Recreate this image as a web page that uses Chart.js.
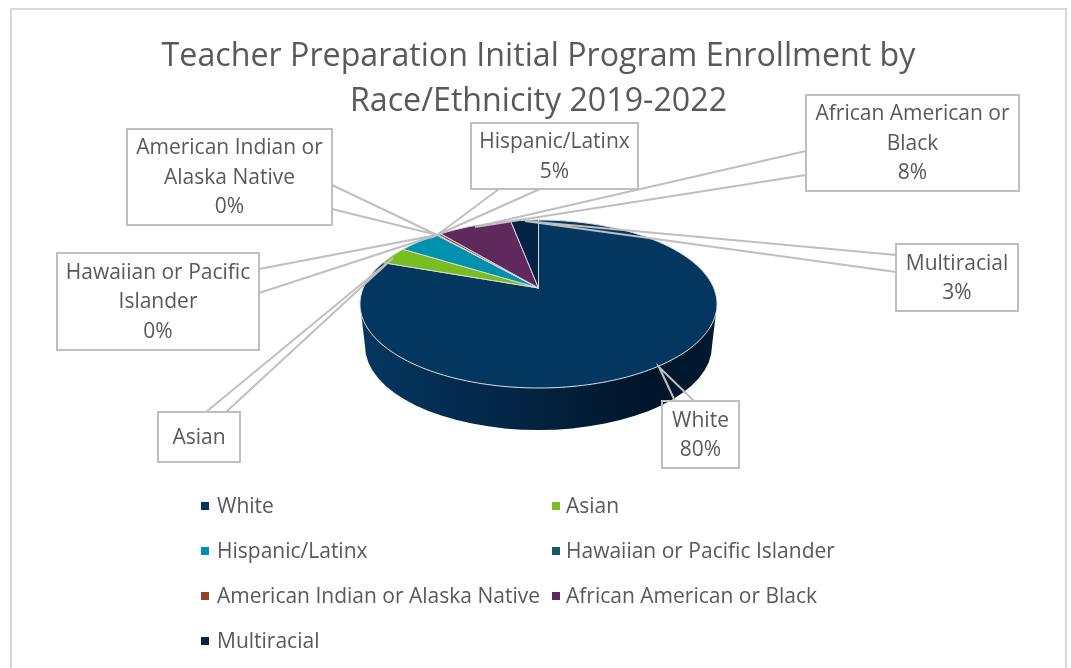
<!DOCTYPE html>
<html>

<head>
  <meta charset="utf-8" />
  <title>Teacher Preparation Initial Program Enrollment</title>
  <script src="https://cdn.jsdelivr.net/npm/chart.js"></script>
  <style>
    html, body { margin: 0; padding: 0; background: #fff; overflow: hidden; }
    canvas { display: block; }
  </style>
</head>

<body>
  <canvas id="pieChart" width="1071" height="668"></canvas>

  <script>
    const titleLines = ['Teacher Preparation Initial Program Enrollment by', 'Race/Ethnicity 2019-2022'];
    const categories = ['White', 'Asian', 'Hispanic/Latinx', 'Hawaiian or Pacific Islander', 'American Indian or Alaska Native', 'African American or Black', 'Multiracial'];
    const enrollment = [80, 3.4, 4.6, 0.1, 0.4, 8, 3];
    const sliceColors = ['#03375f', '#78be20', '#0091ae', '#0f5b60', '#9a3f2a', '#5f295e', '#022343'];

    // label text of the callouts, broken the way the boxes break it
    const calloutText = [
      ['White'],
      ['Asian'],
      ['Hispanic/Latinx'],
      ['Hawaiian or Pacific', 'Islander'],
      ['American Indian or', 'Alaska Native'],
      ['African American or', 'Black'],
      ['Multiracial']
    ];
    const calloutShowsPercent = [true, false, true, true, true, true, true];

    // box: x1, y1, x2, y2 / leader: two feet on the box and the tip
    const calloutBoxes = [
      [662, 401, 739, 468],
      [158, 412, 240, 462],
      [471, 123, 638, 189],
      [57, 253, 259, 350],
      [127, 129, 332, 225],
      [806, 95, 1019, 191],
      [896, 244, 1018, 311]
    ];
    const calloutLeaders = [
      [[694, 401], [659, 367], [675, 401]],
      [[206, 412], [393, 258], [226, 412]],
      [[499, 189], [437, 235], [540, 189]],
      [[259, 269], [437, 235], [259, 293]],
      [[332, 185], [437, 235], [332, 209]],
      [[806, 151], [475, 227], [806, 175]],
      [[896, 255], [525, 221], [896, 272]]
    ];

    const textColor = '#595959';
    const lineColor = '#bfbfbf';
    const fontName = '"Open Sans", sans-serif';

    // the disc as seen in perspective
    const pie = { cx: 538.5, cy: 304, rx: 178.5, ry: 84, apex: 16 / 84 };
    const base = { cx: 538.5, cy: 346, rx: 173.5, ry: 84 };

    // Chart.js angle -> point on the rim, the centre of the disc lands above the middle of the ellipse
    function rimPoint(angle) {
      const t = pie.apex;
      const u = Math.cos(angle);
      const v = -Math.sin(angle);
      const d = 1 + t * v;
      return [pie.cx + pie.rx * u * Math.sqrt(1 - t * t) / d, pie.cy - pie.ry * (v + t) / d];
    }

    const pie3d = {
      id: 'pie3d',
      beforeDatasetsDraw(chart) {
        const ctx = chart.ctx;
        ctx.save();

        // side wall
        const wall = ctx.createLinearGradient(pie.cx - pie.rx, 0, pie.cx + pie.rx, 0);
        wall.addColorStop(0, '#063660');
        wall.addColorStop(0.3, '#032a4e');
        wall.addColorStop(0.55, '#02203b');
        wall.addColorStop(0.82, '#00152a');
        wall.addColorStop(1, '#021a30');
        ctx.beginPath();
        ctx.ellipse(pie.cx, pie.cy, pie.rx, pie.ry, 0, Math.PI, 0, true);
        ctx.ellipse(base.cx, base.cy, base.rx, base.ry, 0, 0, Math.PI, false);
        ctx.closePath();
        ctx.fillStyle = wall;
        ctx.fill();

        // slices, angles come from the arc elements of the chart
        const arcs = chart.getDatasetMeta(0).data;
        arcs.forEach((arc, i) => {
          ctx.beginPath();
          ctx.moveTo(pie.cx, pie.cy - pie.ry * pie.apex);
          const steps = Math.max(2, Math.ceil((arc.endAngle - arc.startAngle) * 40));
          for (let s = 0; s <= steps; s++) {
            const p = rimPoint(arc.startAngle + (arc.endAngle - arc.startAngle) * s / steps);
            ctx.lineTo(p[0], p[1]);
          }
          ctx.closePath();
          ctx.fillStyle = sliceColors[i];
          ctx.fill();
          ctx.lineWidth = 1;
          ctx.strokeStyle = '#d9d9d9';
          ctx.stroke();
        });

        ctx.restore();
        return false;
      },
      afterDraw(chart) {
        const ctx = chart.ctx;
        ctx.save();

        // outer frame, runs off the bottom of the picture
        ctx.strokeStyle = '#d9d9d9';
        ctx.lineWidth = 2;
        ctx.beginPath();
        ctx.moveTo(11, 668);
        ctx.lineTo(11, 9);
        ctx.lineTo(1066, 9);
        ctx.lineTo(1066, 668);
        ctx.stroke();

        // callouts
        const total = enrollment.reduce((a, b) => a + b, 0);
        ctx.font = '21px ' + fontName;
        ctx.textAlign = 'center';
        ctx.textBaseline = 'middle';
        categories.forEach((name, i) => {
          const box = calloutBoxes[i];
          const lead = calloutLeaders[i];
          ctx.strokeStyle = lineColor;
          ctx.lineWidth = 2;
          ctx.strokeRect(box[0], box[1], box[2] - box[0], box[3] - box[1]);
          ctx.beginPath();
          ctx.moveTo(lead[0][0], lead[0][1]);
          ctx.lineTo(lead[1][0], lead[1][1]);
          ctx.lineTo(lead[2][0], lead[2][1]);
          ctx.stroke();

          const lines = calloutText[i].slice();
          if (calloutShowsPercent[i]) lines.push(Math.round(enrollment[i] / total * 100) + '%');
          const mid = (box[1] + box[3]) / 2 + 1;
          ctx.fillStyle = textColor;
          lines.forEach((line, n) => {
            ctx.fillText(line, (box[0] + box[2]) / 2, mid + (n - (lines.length - 1) / 2) * 29.5);
          });
        });

        // legend in two columns
        ctx.textAlign = 'left';
        categories.forEach((name, i) => {
          const col = i % 2;
          const row = Math.floor(i / 2);
          const y = 506 + row * 45;
          ctx.fillStyle = sliceColors[i];
          ctx.fillRect(col ? 552 : 201, y - 4, 8, 8);
          ctx.fillStyle = textColor;
          ctx.fillText(name, col ? 566 : 217, y + 1);
        });

        ctx.restore();
      }
    };

    new Chart(document.getElementById('pieChart').getContext('2d'), {
      type: 'pie',
      data: {
        labels: categories,
        datasets: [{
          data: enrollment,
          backgroundColor: sliceColors
        }]
      },
      options: {
        responsive: false,
        animation: false,
        events: [],
        layout: { padding: { left: 6, top: 0 } },
        plugins: {
          legend: { display: false },
          tooltip: { enabled: false },
          title: {
            display: true,
            text: titleLines,
            color: textColor,
            font: { family: fontName, size: 32.2, weight: 'normal', lineHeight: 1.4 },
            padding: { top: 34, bottom: 0 }
          }
        }
      },
      plugins: [pie3d]
    });
  </script>
</body>

</html>
